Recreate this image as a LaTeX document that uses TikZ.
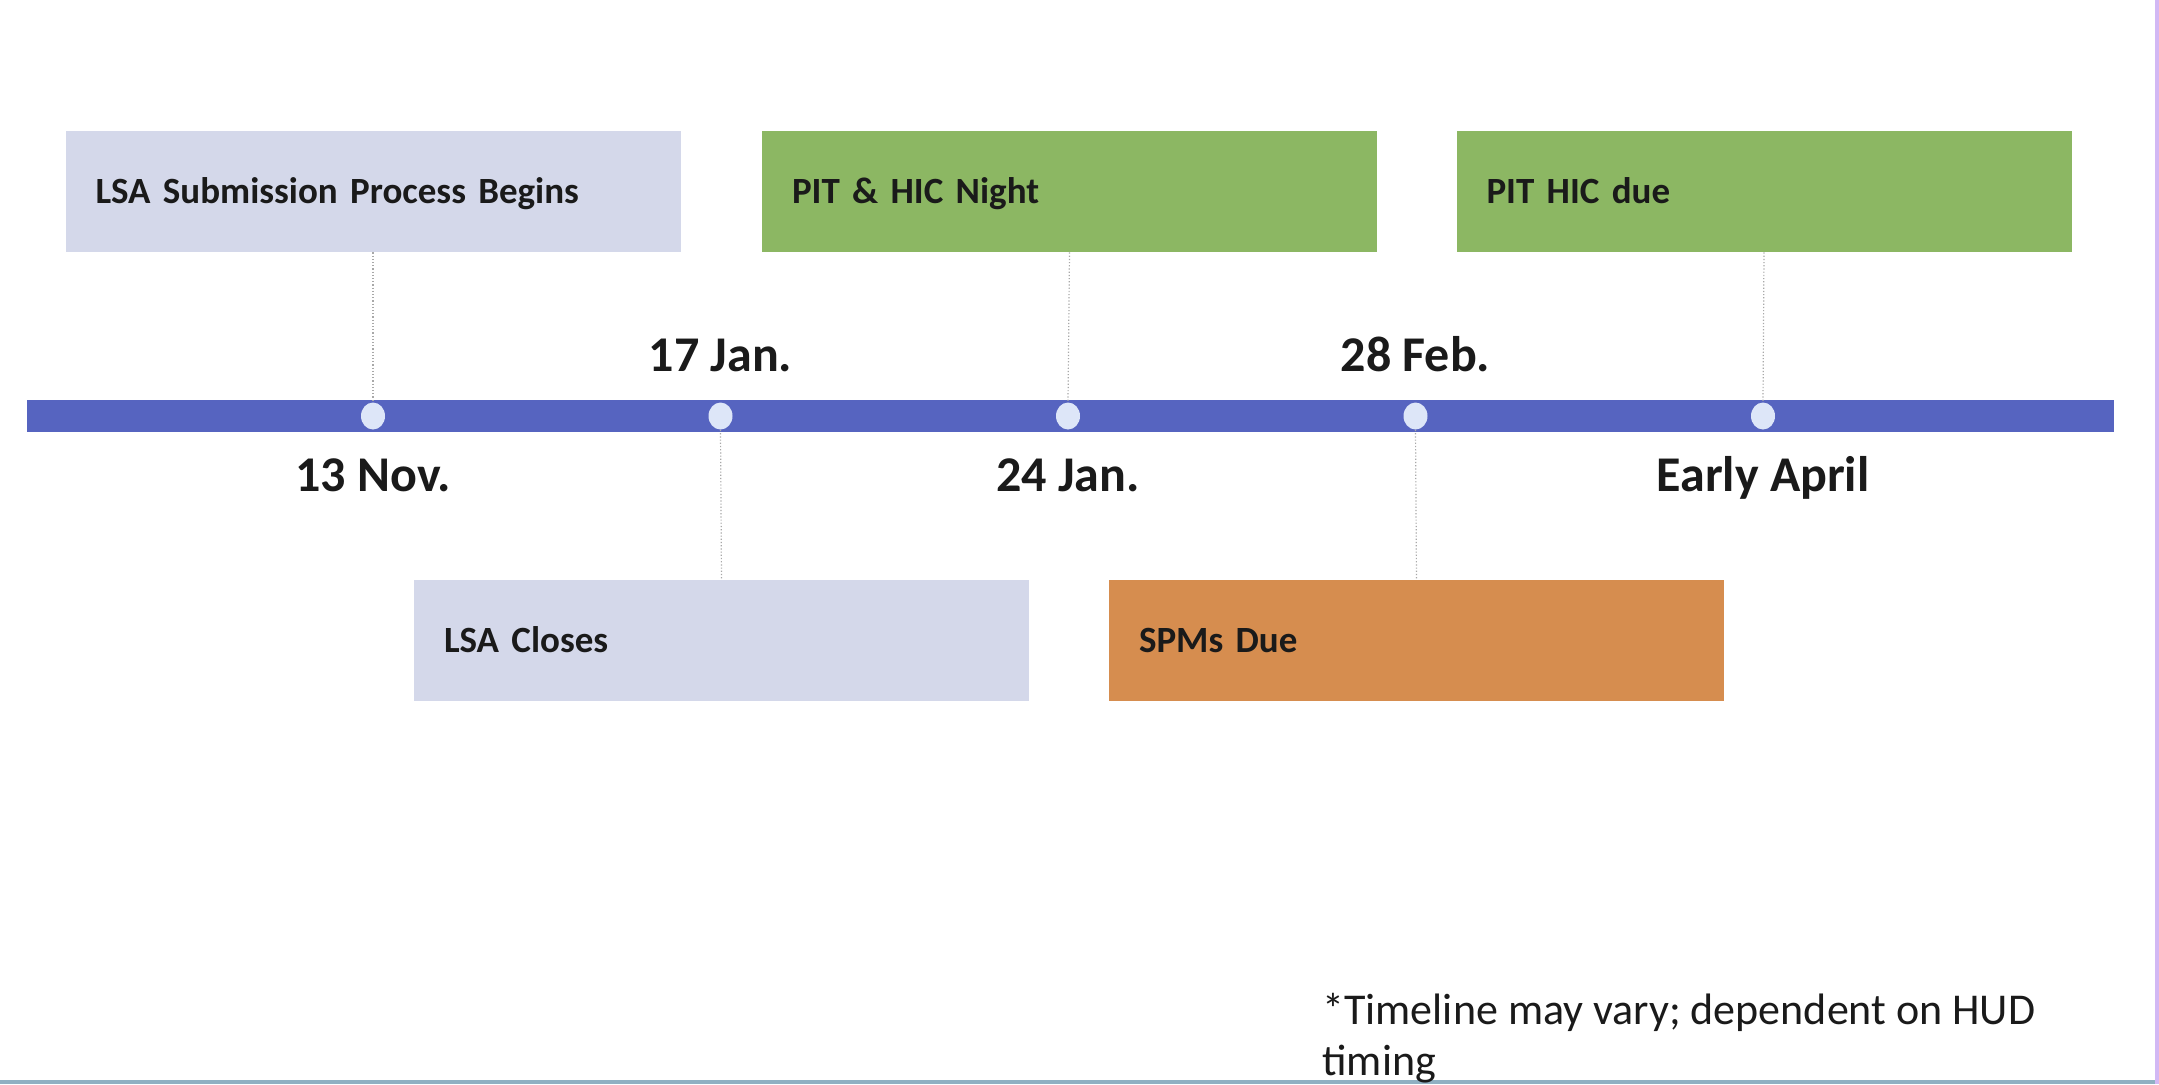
\documentclass[tikz,border=0pt]{standalone}
\usepackage{fontspec}
\setmainfont{Carlito}
\usetikzlibrary{shapes.geometric}
\definecolor{lav}{HTML}{D4D8EA}
\definecolor{grn}{HTML}{8CB763}
\definecolor{org}{HTML}{D68D4F}
\definecolor{barblue}{HTML}{5664C0}
\definecolor{dotfill}{HTML}{DDE6F8}
\definecolor{txt}{HTML}{1A1A1A}
\definecolor{connc}{HTML}{A8A8A8}
\definecolor{rborder}{HTML}{D2B8F4}
\definecolor{bborder}{HTML}{8FB0C2}
\tikzset{
  evbox/.style={rectangle, minimum width=307.5pt, minimum height=60.5pt, text width=277.5pt,
    inner xsep=15pt, inner ysep=0pt, align=left, text=txt,
    text height=11.9pt, text depth=0pt,
    font=\fontsize{18.5}{22}\selectfont\bfseries},
  datelbl/.style={inner sep=0pt, text=txt, text height=16.1pt, text depth=0pt,
    font=\fontsize{25}{30}\selectfont\bfseries},
  tdot/.style={ellipse, fill=dotfill, minimum width=12pt, minimum height=13.5pt, inner sep=0pt},
  conn/.style={draw=connc, line width=0.6pt, densely dotted},
}
\begin{document}
\begin{tikzpicture}[x=0.5pt, y=-0.5pt]
\useasboundingbox (0,0) rectangle (2159,1084);
\fill[white] (0,0) rectangle (2159,1084);
% borders
\fill[rborder] (2155,0) rectangle (2159,1084);
\fill[bborder] (0,1080) rectangle (2155,1084);
% timeline bar
\fill[barblue] (27,400) rectangle (2114,432);
% dots
\node[tdot] (d1) at (373,416) {};
\node[tdot] (d2) at (720.5,416) {};
\node[tdot] (d3) at (1068,416) {};
\node[tdot] (d4) at (1415.5,416) {};
\node[tdot] (d5) at (1763,416) {};
% boxes
\node[evbox, fill=lav] (b1) at (373,191.5) {LSA Submission Process Begins};
\node[evbox, fill=grn] (b2) at (1069.5,191.5) {PIT \& HIC Night};
\node[evbox, fill=grn] (b3) at (1764,191.5) {PIT HIC due};
\node[evbox, fill=lav] (b4) at (721.5,640.5) {LSA Closes};
\node[evbox, fill=org] (b5) at (1416.5,640.5) {SPMs Due};
% connectors
\draw[conn] (b1.south) -- (d1.north);
\draw[conn] (b2.south) -- (d3.north);
\draw[conn] (b3.south) -- (d5.north);
\draw[conn] (d2.south) -- (b4.north);
\draw[conn] (d4.south) -- (b5.north);
% date labels
\node[datelbl] (l2) at (720.5,355) {17 Jan.};
\node[datelbl] (l4) at (1415.5,355) {28 Feb.};
\node[datelbl] (l1) at (373,475) {13 Nov.};
\node[datelbl] (l3) at (1068,475) {24 Jan.};
\node[datelbl] (l5) at (1763,475) {Early April};
% footnote
\node[anchor=base west, align=left, inner sep=0pt, text=txt,
  font=\fontsize{22}{25.5}\selectfont] (note) at (1322,1075)
  {*Timeline may vary; dependent on HUD\\timing};
\end{tikzpicture}
\end{document}
